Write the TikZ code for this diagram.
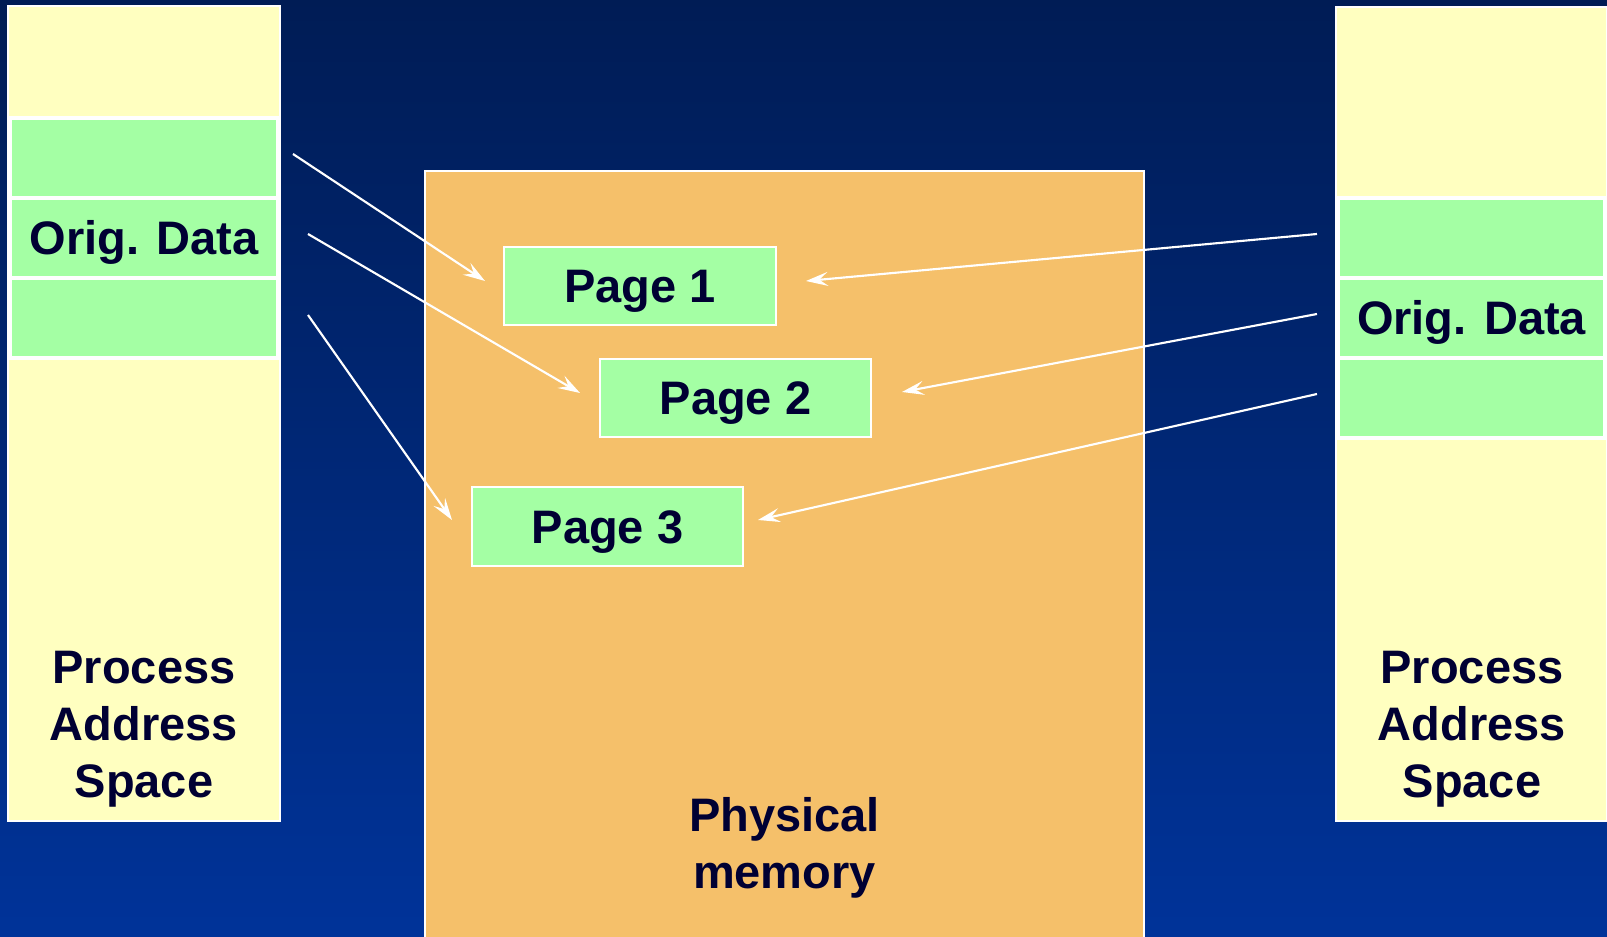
\documentclass[tikz,border=0pt]{standalone}
\usepackage{fontspec}
\setmainfont{Liberation Sans}
\usetikzlibrary{arrows.meta}
\definecolor{bgtop}{RGB}{0,28,85}
\definecolor{bgbot}{RGB}{0,51,153}
\definecolor{paleyellow}{RGB}{255,255,192}
\definecolor{palegreen}{RGB}{164,255,164}
\definecolor{memorange}{RGB}{245,192,106}
\definecolor{inkblue}{RGB}{0,0,51}
\def\px{0.75pt}
\begin{document}
\begin{tikzpicture}[x=0.75pt,y=-0.75pt,
  lbl/.style={font=\bfseries\fontsize{35.25}{42.75}\selectfont, text=inkblue},
  onelbl/.style={lbl, text height=25.3pt, text depth=0pt},
  colbox/.style={draw=white, line width=1.5pt, fill=paleyellow, inner sep=0pt, outer sep=0pt},
  band/.style={onelbl, draw=white, line width=2.6pt, fill=palegreen, inner sep=0pt, outer sep=0pt,
     minimum width=267*\px, minimum height=80*\px},
  pagebox/.style={onelbl, draw=white, line width=1.5pt, fill=palegreen, inner sep=0pt, outer sep=0pt,
     minimum width=271*\px, minimum height=78*\px},
  memarrow/.style={draw=white, line width=1.6pt, -{Stealth[length=16.5pt,width=10.5pt,inset=6.5pt]}},
]
\useasboundingbox (0,0) rectangle (1607,937);
\fill[top color=bgtop, bottom color=bgbot] (0,0) rectangle (1607,937);

% left process address space
\node[colbox, minimum width=272*\px, minimum height=815*\px] (lcol) at (144,413.5) {};
\node[band, minimum width=268*\px] (lb1) at (144,158) {};
\node[band, minimum width=268*\px] (lb2) at (144,238) {Orig. Data};
\node[band, minimum width=268*\px] (lb3) at (144,318) {};
\node[lbl, align=center] (lproc) at (144,729.5) {Process\\Address\\Space};

% physical memory
\node[draw=white, line width=1.5pt, fill=memorange, inner sep=0pt, outer sep=0pt,
      minimum width=719*\px, minimum height=790*\px, anchor=north west] (mem) at (425,171) {};
\node[lbl, align=center] (memlbl) at (784.5,847.5) {Physical\\memory};

% right process address space
\node[colbox, minimum width=271*\px, minimum height=814*\px] (rcol) at (1471.5,414) {};
\node[band] (rb1) at (1471.5,238) {};
\node[band] (rb2) at (1471.5,318) {Orig. Data};
\node[band] (rb3) at (1471.5,398) {};
\node[lbl, align=center] (rproc) at (1472,729.5) {Process\\Address\\Space};

% pages
\node[pagebox, minimum width=272*\px] (p1) at (640,286) {Page 1};
\node[pagebox] (p2) at (735.5,398) {Page 2};
\node[pagebox, minimum height=79*\px] (p3) at (607.5,526.5) {Page 3};

% arrow end points
\coordinate (l1s) at (293,154);
\coordinate (l1e) at (485,281);
\coordinate (l2s) at (308,234);
\coordinate (l2e) at (580,393);
\coordinate (l3s) at (308,315);
\coordinate (l3e) at (452,520);
\coordinate (r1s) at (1317,234);
\coordinate (r1e) at (806,281);
\coordinate (r2s) at (1317,314);
\coordinate (r2e) at (902,392);
\coordinate (r3s) at (1317,394);
\coordinate (r3e) at (758,520);

\draw[memarrow] (l1s) -- (l1e);
\draw[memarrow] (l2s) -- (l2e);
\draw[memarrow] (l3s) -- (l3e);
\draw[memarrow] (r1s) -- (r1e);
\draw[memarrow] (r2s) -- (r2e);
\draw[memarrow] (r3s) -- (r3e);
\end{tikzpicture}
\end{document}
